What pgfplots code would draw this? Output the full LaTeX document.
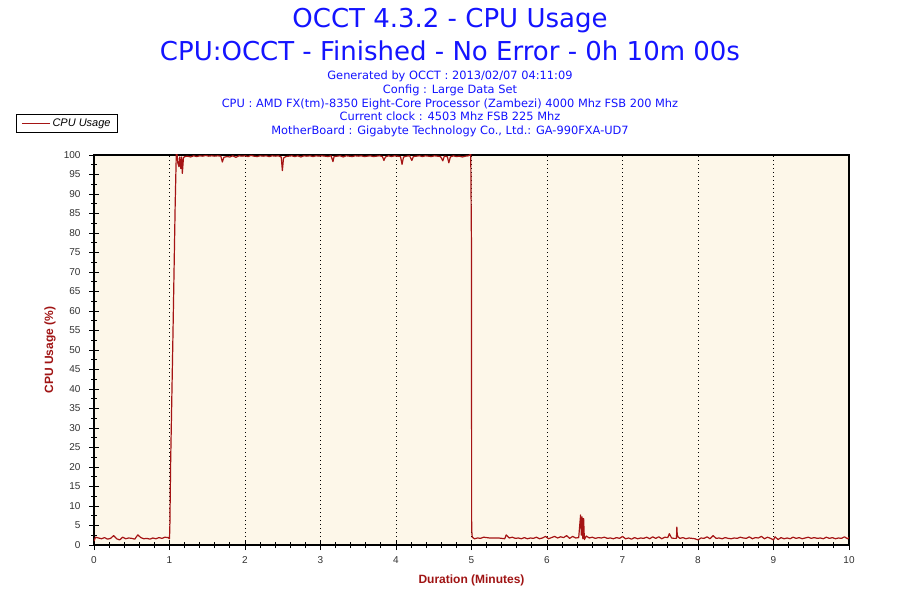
\documentclass[border=0pt]{standalone}
\usepackage{fontspec}
\setmainfont{Liberation Sans}
\newfontfamily\titlefont{DejaVu Sans}
\usepackage{pgfplots}
\pgfplotsset{compat=1.18}
\definecolor{ttlblue}{RGB}{20,20,255}
\definecolor{lblred}{RGB}{160,20,20}
\definecolor{lineRed}{RGB}{165,20,20}
\definecolor{bgcream}{RGB}{253,247,233}
\definecolor{tickgray}{RGB}{50,50,50}
\begin{document}
\begin{tikzpicture}
\useasboundingbox[fill=white] (0pt,0pt) rectangle (900pt,600pt);
\node[text=ttlblue,font=\titlefont\fontsize{26}{30}\selectfont] at (450pt,579pt) {OCCT 4.3.2 - CPU Usage};
\node[text=ttlblue,font=\titlefont\fontsize{26}{30}\selectfont] at (450pt,549pt) {CPU:OCCT - Finished - No Error - 0h 10m 00s};
\node[text=ttlblue,font=\titlefont\fontsize{11.4}{13.8}\selectfont,align=center] at (450pt,496pt) {Generated by OCCT : 2013/02/07 04:11:09\\Config : Large Data Set\\CPU : AMD FX(tm)-8350 Eight-Core Processor (Zambezi) 4000 Mhz FSB 200 Mhz\\Current clock : 4503 Mhz FSB 225 Mhz\\MotherBoard : Gigabyte Technology Co., Ltd.: GA-990FXA-UD7};
\begin{axis}[
  at={(94pt,55pt)}, anchor=south west,
  width=755pt, height=390pt, scale only axis,
  xmin=0, xmax=10, ymin=0, ymax=100,
  axis background/.style={fill=bgcream},
  axis line style={black, line width=1.2pt},
  xtick={0,1,...,10}, minor xtick={0,0.2,...,10},
  ytick={0,5,...,100}, minor ytick={2.5,7.5,...,97.5},
  xtick pos=bottom, ytick pos=left,
  tick align=center,
  major tick length=10pt, minor tick length=6pt,
  every tick/.style={black, line width=0.9pt},
  xmajorgrids, major x grid style={black, line width=0.8pt, dash pattern=on 1pt off 3pt},
  ticklabel style={font=\fontsize{10}{11}\selectfont, text=tickgray},
  /pgf/number format/assume math mode=true,
  xticklabel style={yshift=-3pt},
  yticklabel style={xshift=-5pt},
  xlabel={Duration (Minutes)}, ylabel={CPU Usage (\%)},
  label style={font=\bfseries\fontsize{12}{14}\selectfont, text=lblred},
  xlabel style={at={(axis description cs:0.5,-0.09)}, anchor=center},
  ylabel style={at={(axis description cs:-0.0583,0.5)}, anchor=center},
  legend style={at={(axis description cs:-0.1033,1.105)}, anchor=north west, draw=black, line width=0.8pt, fill=white, font=\itshape\fontsize{11}{13}\selectfont, inner xsep=5pt, inner ysep=2.5pt, row sep=0pt},
  legend cell align=left,
  legend image code/.code={\draw[lineRed, line width=1.1pt] (0pt,0pt) -- (28pt,0pt);},
  clip=true,
]
\addplot[lineRed, line width=1.2pt, line join=round] coordinates {
(0,1.0)(0.02,2.0)(0.06,1.8)(0.1,1.6)(0.14,1.9)(0.18,1.5)(0.22,1.7)(0.26,2.4)(0.30,1.6)(0.34,1.3)(0.38,2.0)(0.42,1.6)(0.46,1.8)(0.50,1.7)(0.54,1.5)(0.58,2.6)(0.62,1.9)(0.66,1.6)(0.70,1.7)(0.74,1.5)(0.78,1.8)(0.82,1.6)(0.86,1.9)(0.90,1.7)(0.94,2.0)(0.98,1.9)(1.0,1.6)
(1.005,5)(1.015,21)(1.03,37)(1.045,53)(1.06,70)(1.075,87)(1.09,100.3)(1.10,100.2)(1.11,98)(1.125,97)(1.135,99.5)(1.15,96.5)(1.16,99.5)(1.17,95.3)(1.185,99.3)(1.2,99.6)
(1.24,99.7)(1.28,99.5)(1.32,99.8)(1.36,99.6)(1.40,99.8)(1.44,99.7)(1.48,99.9)(1.52,99.7)(1.56,99.8)(1.60,99.7)(1.64,99.8)(1.68,99.7)(1.70,98.2)(1.72,99.4)(1.76,99.6)(1.80,99.5)(1.84,99.8)(1.88,99.4)(1.92,99.8)(1.96,99.7)(2.00,99.8)(2.04,99.6)(2.08,99.9)(2.12,99.7)(2.16,99.6)(2.20,99.8)(2.24,99.7)(2.28,99.8)(2.32,99.6)(2.36,99.8)(2.40,99.7)(2.44,99.8)(2.48,99.5)(2.495,96.0)(2.51,99.2)(2.54,99.6)
(2.58,99.7)(2.62,99.8)(2.66,99.6)(2.70,99.8)(2.74,99.5)(2.78,99.8)(2.82,99.7)(2.86,99.8)(2.90,99.6)(2.94,99.8)(2.98,99.7)(3.02,99.8)(3.06,99.7)(3.10,99.6)(3.14,99.8)(3.165,98.3)(3.18,99.6)(3.22,99.7)(3.26,99.8)(3.30,99.5)(3.34,99.8)(3.38,99.7)(3.42,99.6)(3.46,99.8)(3.50,99.7)(3.54,99.8)(3.58,99.6)(3.62,99.7)(3.66,99.8)(3.70,99.6)(3.74,99.7)(3.78,99.8)(3.82,99.6)(3.84,98.6)(3.86,99.5)(3.90,99.8)(3.94,99.6)(3.98,99.8)(4.02,99.7)(4.06,99.6)(4.08,97.6)(4.10,99.5)(4.14,99.7)(4.18,99.8)(4.21,98.6)(4.23,99.6)(4.27,99.7)(4.31,99.8)(4.35,99.6)(4.39,99.8)(4.43,99.7)(4.47,99.6)(4.51,99.8)(4.55,99.7)(4.59,99.6)(4.62,98.5)(4.64,99.7)(4.68,99.6)(4.70,98.0)(4.72,99.5)(4.76,99.8)(4.80,99.6)(4.84,99.7)(4.88,99.5)(4.92,99.7)(4.96,99.8)(4.99,100.2)
(5.0,75.5)(5.002,4.0)(5.01,2.0)
(5.04,1.6)(5.08,1.8)(5.12,1.7)(5.16,2.0)(5.20,1.9)(5.24,1.8)(5.28,1.8)(5.32,1.8)(5.36,1.8)(5.40,1.7)(5.44,1.6)(5.46,2.6)(5.50,1.8)(5.54,2.0)(5.58,1.7)(5.62,1.8)(5.66,1.6)(5.70,1.9)(5.74,1.6)(5.78,1.8)(5.82,1.7)(5.86,2.0)(5.90,1.6)(5.94,1.8)(5.98,2.2)(6.02,1.6)(6.06,1.9)(6.10,2.2)(6.14,1.8)(6.18,2.1)(6.22,1.9)(6.26,2.4)(6.30,1.7)(6.34,2.2)(6.38,1.8)(6.42,1.9)(6.445,7.7)(6.455,2.5)(6.465,7.2)(6.475,1.6)(6.485,6.8)(6.495,1.4)(6.52,2.3)(6.56,1.8)(6.60,2.0)(6.64,1.7)(6.68,1.9)(6.72,1.8)(6.76,2.0)(6.80,1.7)(6.84,1.8)(6.88,1.6)(6.92,1.9)(6.96,1.7)(7.00,2.2)(7.04,1.6)(7.08,1.8)(7.12,1.5)(7.16,1.9)(7.20,1.6)(7.24,1.8)(7.28,1.7)(7.32,2.0)(7.36,1.6)(7.40,2.1)(7.44,1.7)(7.48,2.1)(7.52,1.6)(7.56,2.0)(7.60,1.9)(7.62,2.9)(7.65,1.8)(7.68,1.7)(7.715,1.7)(7.72,4.6)(7.725,2.7)(7.735,2.1)(7.76,1.7)(7.80,1.9)(7.84,1.6)(7.88,1.8)(7.92,1.7)(7.96,1.6)(8.00,1.3)(8.04,1.8)(8.08,1.7)(8.12,2.1)(8.16,1.6)(8.20,2.4)(8.24,1.7)(8.28,1.8)(8.32,1.6)(8.36,1.9)(8.40,1.7)(8.44,1.6)(8.48,1.8)(8.52,1.7)(8.56,2.0)(8.60,1.8)(8.64,1.7)(8.68,2.1)(8.72,1.6)(8.76,1.9)(8.80,1.8)(8.84,2.2)(8.88,1.6)(8.92,2.0)(8.96,1.7)(9.00,1.3)(9.02,2.1)(9.06,1.4)(9.10,1.9)(9.14,1.6)(9.18,1.8)(9.22,1.6)(9.26,2.0)(9.30,1.7)(9.34,1.9)(9.38,1.6)(9.42,1.8)(9.46,2.0)(9.50,1.7)(9.54,1.9)(9.58,1.7)(9.62,1.8)(9.66,1.6)(9.70,2.0)(9.74,1.7)(9.78,1.9)(9.82,1.6)(9.86,1.8)(9.90,1.7)(9.94,2.1)(9.98,1.6)(10.0,1.9)
};
\addlegendentry{CPU Usage}
\end{axis}
\end{tikzpicture}
\end{document}
